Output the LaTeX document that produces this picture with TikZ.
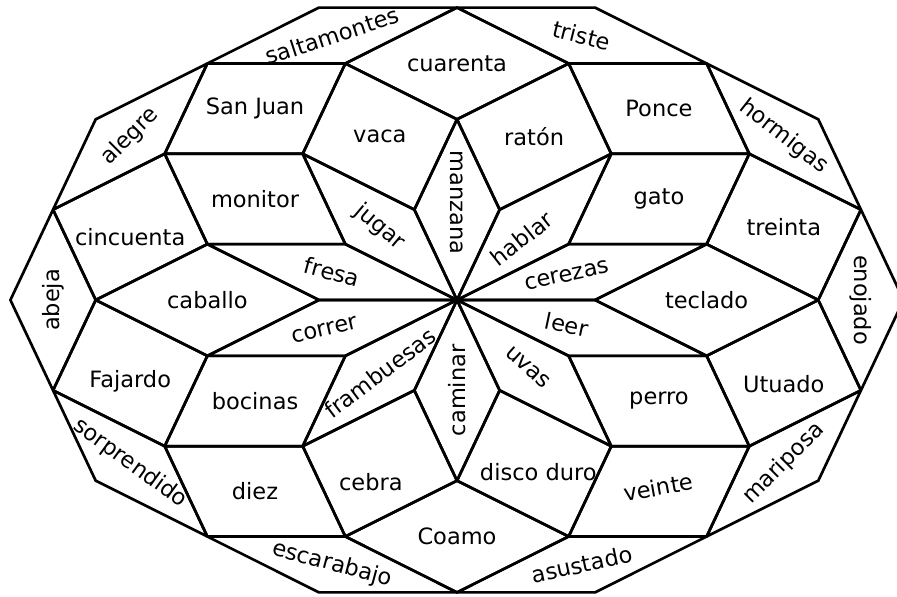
\documentclass[tikz,border=0pt]{standalone}
\usepackage{fontspec}
\setmainfont{DejaVu Sans}
\usetikzlibrary{calc}
\definecolor{traitnoir}{RGB}{0,0,0}

\tikzset{
  tuile/.style={draw=traitnoir, line width=1.9pt, line join=round},
  mot/.style={font=\fontsize{16}{19}\selectfont, text=traitnoir, inner sep=0pt}
}

\begin{document}
\begin{tikzpicture}[x=3.45cm, y=2.375cm]
  \useasboundingbox (-3.3116,-3.1263) rectangle (3.1884,3.1579);
  \clip (-3.3116,-3.1263) rectangle (3.1884,3.1579);
  % sommets
  \coordinate (O) at (0,0);
  \foreach \k in {0,...,9} {
    \coordinate (a\k) at (36*\k:1);
    \coordinate (b\k) at (36*\k+18:1.9021);
    \coordinate (c\k) at (36*\k:2.6180);
    \coordinate (d\k) at (36*\k+18:3.0777);
    \coordinate (e\k) at (36*\k:3.2361);
  }
  % losanges
  \foreach \k in {0,...,9} {
    \pgfmathtruncatemacro{\n}{mod(\k+1,10)}
    \pgfmathtruncatemacro{\p}{mod(\k+9,10)}
    \draw[tuile] (O) -- (a\k) -- (b\k) -- (a\n) -- cycle;
    \draw[tuile] (a\k) -- (b\p) -- (c\k) -- (b\k) -- cycle;
    \draw[tuile] (b\k) -- (c\k) -- (d\k) -- (c\n) -- cycle;
    \draw[tuile] (c\k) -- (d\p) -- (e\k) -- (d\k) -- cycle;
  }
  \fill[traitnoir] (O) circle[radius=2.5pt];
  % etoile centrale
  \foreach \k/\f/\r/\w in {0/0.44/12/cerezas, 1/0.42/38/hablar, 2/0.54/-90/manzana,
      3/0.5/-40/jugar, 4/0.5/-15/fresa, 5/0.53/13/correr, 6/0.5/37/frambuesas,
      7/0.5/90/caminar, 8/0.46/-42/uvas, 9/0.44/-12/leer}
    \node[mot, rotate=\r] (t\k) at ($(O)!\f!(b\k)$) {\w};
  % premiere couronne
  \foreach \k/\f/\w in {0/0.5/teclado, 1/0.5/gato, 2/0.5/ratón, 3/0.5/vaca,
      4/0.5/monitor, 5/0.5/caballo, 6/0.5/bocinas, 7/0.63/cebra,
      8/0.56/disco duro, 9/0.5/perro}
    \node[mot] (g\k) at ($(a\k)!\f!(c\k)$) {\w};
  % deuxieme couronne
  \foreach \k/\r/\s/\w in {0/0/0/treinta, 1/0/0/Ponce, 2/0/0/cuarenta,
      3/0/0/San Juan, 4/0/-0.25/cincuenta, 5/0/-0.2/Fajardo, 6/0/0/diez,
      7/0/0/Coamo, 8/10/0.1/veinte, 9/0/-0.27/Utuado}
    \node[mot, rotate=\r, yshift=\s cm] (m\k) at ($(b\k)!0.5!(d\k)$) {\w};
  % bord
  \foreach \k/\r/\w in {0/-90/enojado, 1/-38/hormigas, 2/-14/triste,
      3/18/saltamontes, 4/45/alegre, 5/90/abeja, 6/-36/sorprendido,
      7/-15/escarabajo, 8/12/asustado, 9/45/mariposa}
    \node[mot, rotate=\r] (s\k) at ($(c\k)!0.5!(e\k)$) {\w};
\end{tikzpicture}
\end{document}
